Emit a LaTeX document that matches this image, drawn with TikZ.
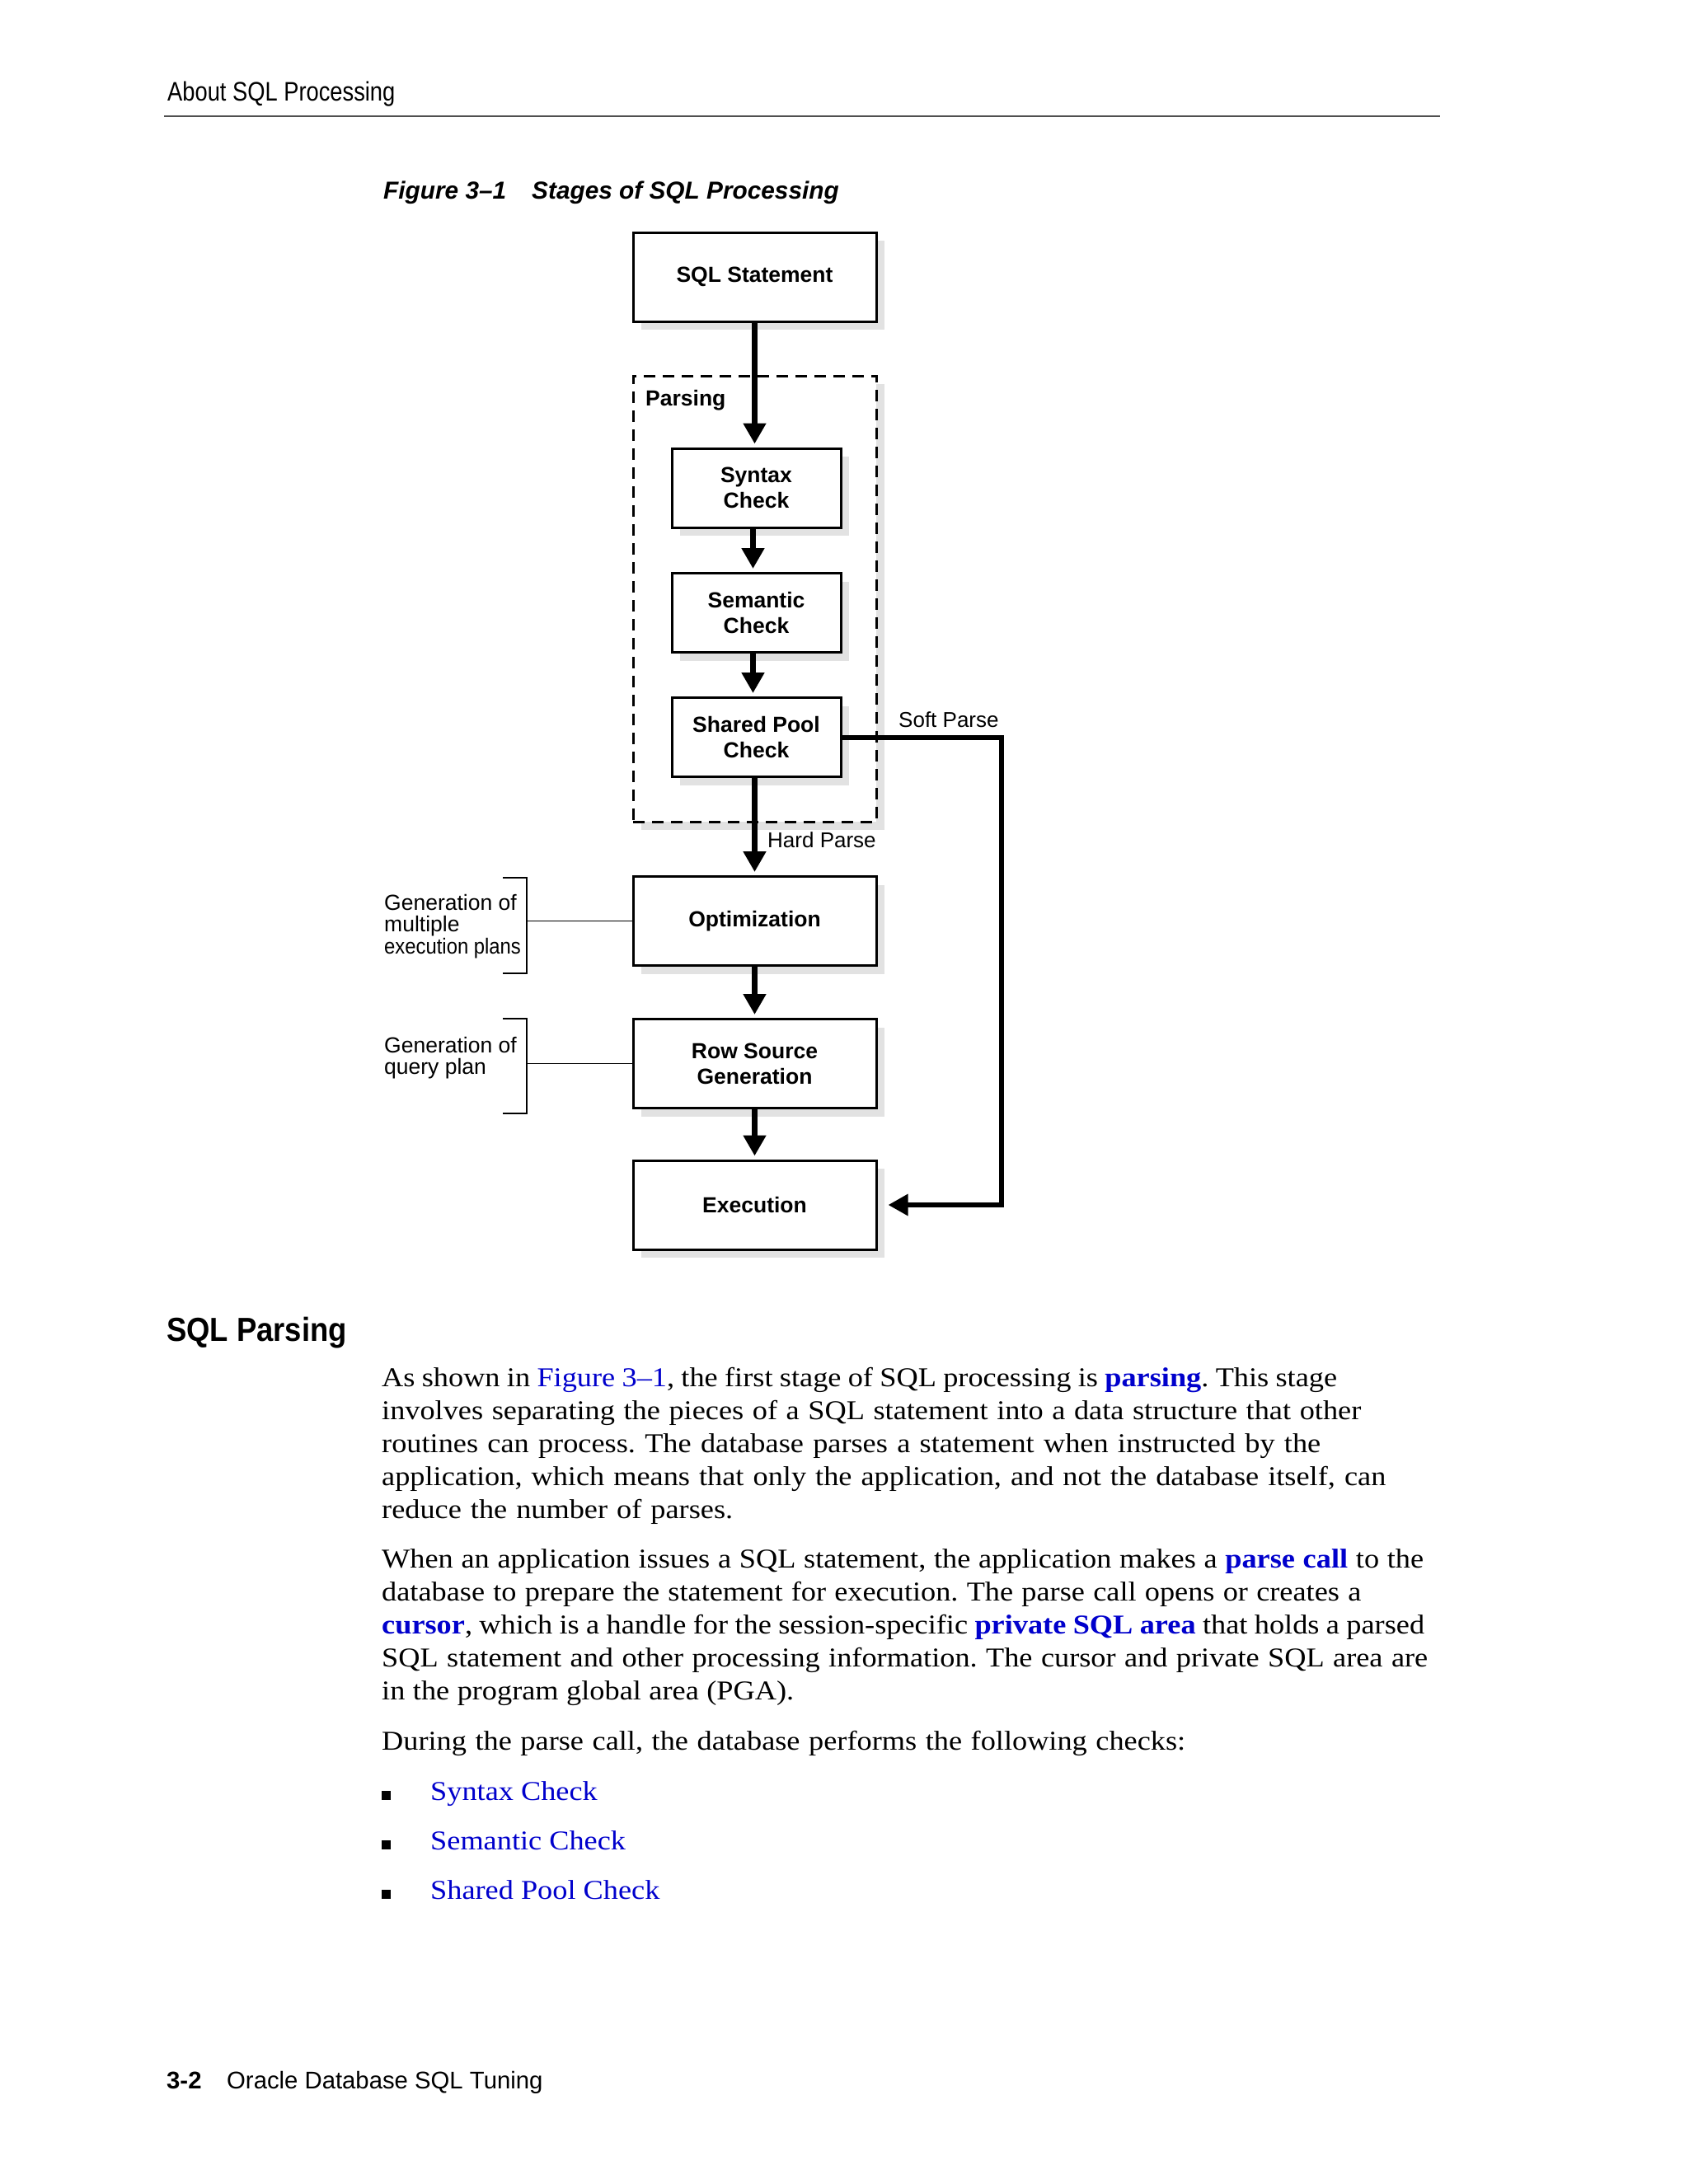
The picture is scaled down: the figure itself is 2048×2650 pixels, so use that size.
\documentclass[tikz,border=0pt]{standalone}
\usepackage{fontspec}
\usepackage{graphicx}
\setmainfont{Liberation Serif}[FakeStretch=1.1]
\newfontfamily\hv{Liberation Sans}
\usetikzlibrary{arrows.meta,shadows}
\definecolor{linkblue}{RGB}{0,0,204}
\definecolor{shade}{RGB}{226,226,226}
\definecolor{rulegray}{RGB}{80,80,80}
\newcommand\Lnk[1]{\textcolor{linkblue}{#1}}
\newcommand\Lnkb[1]{\textcolor{linkblue}{\bfseries #1}}
\newcommand\bodysize{\fontsize{33}{40}\selectfont\frenchspacing}
\newcommand\boxfont{\hv\bfseries\fontsize{26.5}{31}\selectfont}
\begin{document}
\begin{tikzpicture}[x=1pt,y=-1pt,
  box/.style={draw, line width=3pt, fill=white, inner sep=0pt, align=center, font=\boxfont,
    drop shadow={shadow xshift=10pt, shadow yshift=-10pt, fill=shade, opacity=1}},
  bigbox/.style={box, minimum width=295pt, minimum height=108pt},
  smallbox/.style={box, minimum width=205pt, minimum height=96pt},
  parsebox/.style={draw, line width=3pt, dash pattern=on 14pt off 9pt, fill=white, inner sep=0pt,
    minimum width=295pt, minimum height=541pt,
    drop shadow={shadow xshift=10pt, shadow yshift=-10pt, fill=shade, opacity=1}},
  arr/.style={line width=7pt, -{Triangle[length=25pt,width=26.5pt]}, shorten >=4pt},
  soft/.style={line width=6pt, line join=miter, -{Triangle[length=24pt,width=25pt]}, shorten >=13pt},
  lbl/.style={font=\hv\fontsize{26}{30}\selectfont, inner sep=0pt, anchor=base west},
  side/.style={font=\hv\fontsize{26.5}{27}\selectfont, inner sep=0pt, anchor=base west},
  brk/.style={line width=1.6pt},
  body/.style={font=\bodysize, inner sep=0pt, anchor=base west},
  bullet/.style={fill=black, inner sep=0pt, minimum size=11pt}
]
\fill[white] (0,0) rectangle (2048,2650);
\useasboundingbox (0,0) rectangle (2048,2650);

% page header
\node[inner sep=0pt, anchor=base west] (hdr) at (203,122)
  {\hv\fontsize{32.5}{36}\selectfont\scalebox{0.84}[1]{About SQL Processing}};
\draw[line width=2pt, rulegray] (199,141) -- (1747,141);

% caption
\node[inner sep=0pt, anchor=base west] (figno) at (465,241)
  {\hv\bfseries\itshape\fontsize{29.8}{34}\selectfont Figure 3–1};
\node[inner sep=0pt, anchor=base west] (figtitle) at (645,241)
  {\hv\bfseries\itshape\fontsize{29.8}{34}\selectfont Stages of SQL Processing};

% diagram
\node[bigbox] (sql) at (915.5,336) {SQL Statement};
\node[parsebox] (pars) at (915.5,726.5) {};
\node[font=\boxfont, inner sep=0pt, anchor=base west] (parsl) at (783,492) {Parsing};
\node[smallbox] (syn) at (917.5,592) {Syntax\\Check};
\node[smallbox] (sem) at (917.5,743.5) {Semantic\\Check};
\node[smallbox] (spc) at (917.5,894.5) {Shared Pool\\Check};
\node[bigbox] (opt) at (915.5,1117.5) {Optimization};
\node[bigbox] (rsg) at (915.5,1290.5) {Row Source\\Generation};
\node[bigbox] (exe) at (915.5,1462) {Execution};

\draw[arr] (sql.south) -- (sql.south |- syn.north);
\draw[arr] ([xshift=-4pt]syn.south) -- ([xshift=-4pt]sem.north);
\draw[arr] ([xshift=-4pt]sem.south) -- ([xshift=-4pt]spc.north);
\draw[arr] (spc.south -| opt.north) -- (opt.north);
\draw[arr] (opt) -- (rsg);
\draw[arr] (rsg) -- (exe);
\coordinate (sp) at (1215,0);
\draw[soft] (spc.east) -| (sp |- exe.east) -- (exe.east);

\node[lbl] (softl) at (1090,882) {Soft Parse};
\node[lbl] (hardl) at (931,1028) {Hard Parse};

% side brackets
\coordinate (k1) at (639,1117.5);
\coordinate (k2) at (639,1290.5);
\draw[brk] (610,1065) -- (639,1065) -- (639,1181) -- (610,1181);
\draw[brk] (k1) -- (opt.west);
\draw[brk] (610,1236) -- (639,1236) -- (639,1351) -- (610,1351);
\draw[brk] (k2) -- (rsg.west);
\node[side] (g1a) at (466,1104) {Generation of};
\node[side] (g1b) at (466,1130.5) {multiple};
\node[side] (g1c) at (466,1157) {\scalebox{0.9}[1]{execution plans}};
\node[side] (g2a) at (466,1277) {Generation of};
\node[side] (g2b) at (466,1303) {query plan};

% section heading
\node[inner sep=0pt, anchor=base west] (sec) at (202,1627)
  {\hv\bfseries\fontsize{40.5}{44}\selectfont\scalebox{0.9}[1]{SQL Parsing}};

% body text
\node[body] (p1a) at (463,1682) {\hbox to 1159pt{As shown in \Lnk{Figure 3–1}, the first stage of SQL processing is \Lnkb{parsing}. This stage}};
\node[body] (p1b) at (463,1722) {\hbox to 1188pt{involves separating the pieces of a SQL statement into a data structure that other}};
\node[body] (p1c) at (463,1762) {\hbox to 1139pt{routines can process. The database parses a statement when instructed by the}};
\node[body] (p1d) at (463,1802) {\hbox to 1218pt{application, which means that only the application, and not the database itself, can}};
\node[body] (p1e) at (463,1842) {\hbox to 426pt{reduce the number of parses.}};

\node[body] (p2a) at (463,1902) {\hbox to 1264pt{When an application issues a SQL statement, the application makes a \Lnkb{parse call} to the}};
\node[body] (p2b) at (463,1942) {\hbox to 1188pt{database to prepare the statement for execution. The parse call opens or creates a}};
\node[body] (p2c) at (463,1982) {\hbox to 1265pt{\Lnkb{cursor}, which is a handle for the session-specific \Lnkb{private SQL area} that holds a parsed}};
\node[body] (p2d) at (463,2022) {\hbox to 1269pt{SQL statement and other processing information. The cursor and private SQL area are}};
\node[body] (p2e) at (463,2062) {\hbox to 500pt{in the program global area (PGA).}};

\node[body] (p3) at (463,2123) {\hbox to 975pt{During the parse call, the database performs the following checks:}};

\node[bullet] (bu1) at (468.5,2178.5) {};
\node[bullet] (bu2) at (468.5,2238.5) {};
\node[bullet] (bu3) at (468.5,2298.5) {};
\node[body] (l1) at (522,2184) {\Lnk{Syntax Check}};
\node[body] (l2) at (522,2244) {\Lnk{Semantic Check}};
\node[body] (l3) at (522,2304) {\Lnk{Shared Pool Check}};

% footer
\node[inner sep=0pt, anchor=base west] (pgno) at (202,2534)
  {\hv\bfseries\fontsize{29.3}{33}\selectfont 3-2};
\node[inner sep=0pt, anchor=base west] (book) at (275,2534)
  {\hv\fontsize{29.3}{33}\selectfont Oracle Database SQL Tuning};
\end{tikzpicture}
\end{document}
